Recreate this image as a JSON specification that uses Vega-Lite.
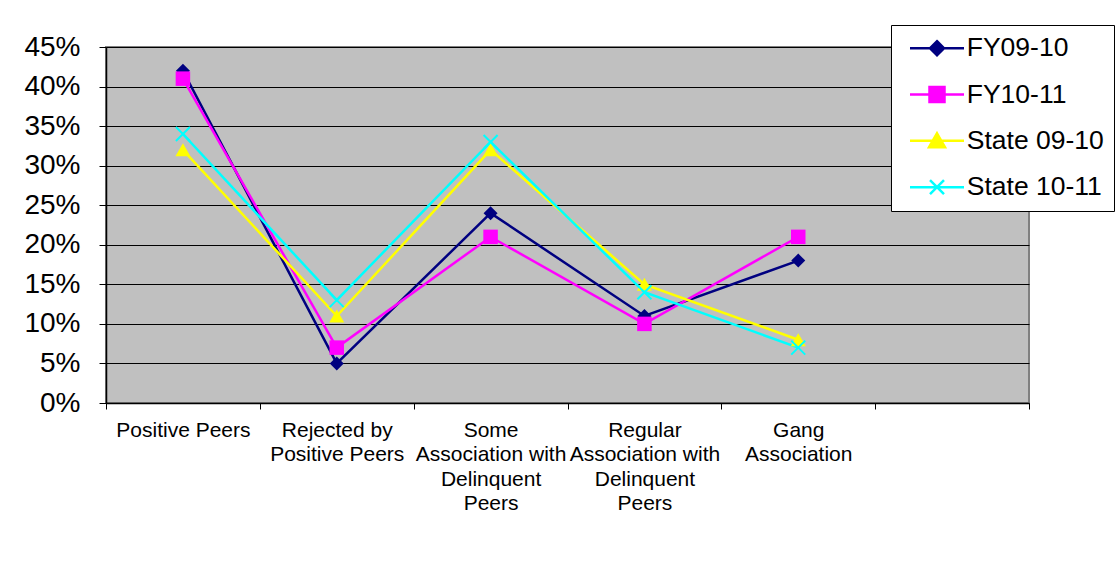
{
  "$schema": "https://vega.github.io/schema/vega-lite/v6.json",
  "autosize": "none",
  "width": 923,
  "height": 356,
  "padding": {"left": 106, "top": 47, "right": 87, "bottom": 174},
  "background": "white",
  "config": {
    "font": "Liberation Sans",
    "view": {"fill": "#C0C0C0", "stroke": "#808080", "strokeWidth": 2}
  },
  "data": {
    "values": [
      {"category": "Positive Peers", "series": "FY09-10", "value": 0.42},
      {"category": "Rejected by Positive Peers", "series": "FY09-10", "value": 0.05},
      {"category": "Some Association with Delinquent Peers", "series": "FY09-10", "value": 0.24},
      {"category": "Regular Association with Delinquent Peers", "series": "FY09-10", "value": 0.11},
      {"category": "Gang Association", "series": "FY09-10", "value": 0.18},
      {"category": "Positive Peers", "series": "FY10-11", "value": 0.41},
      {"category": "Rejected by Positive Peers", "series": "FY10-11", "value": 0.07},
      {"category": "Some Association with Delinquent Peers", "series": "FY10-11", "value": 0.21},
      {"category": "Regular Association with Delinquent Peers", "series": "FY10-11", "value": 0.10},
      {"category": "Gang Association", "series": "FY10-11", "value": 0.21},
      {"category": "Positive Peers", "series": "State 09-10", "value": 0.32},
      {"category": "Rejected by Positive Peers", "series": "State 09-10", "value": 0.11},
      {"category": "Some Association with Delinquent Peers", "series": "State 09-10", "value": 0.32},
      {"category": "Regular Association with Delinquent Peers", "series": "State 09-10", "value": 0.15},
      {"category": "Gang Association", "series": "State 09-10", "value": 0.08},
      {"category": "Positive Peers", "series": "State 10-11", "value": 0.34},
      {"category": "Rejected by Positive Peers", "series": "State 10-11", "value": 0.13},
      {"category": "Some Association with Delinquent Peers", "series": "State 10-11", "value": 0.33},
      {"category": "Regular Association with Delinquent Peers", "series": "State 10-11", "value": 0.14},
      {"category": "Gang Association", "series": "State 10-11", "value": 0.07}
    ]
  },
  "encoding": {
    "x": {
      "field": "category",
      "type": "nominal",
      "bandPosition": 0.5,
      "scale": {
        "type": "band",
        "domain": ["Positive Peers", "Rejected by Positive Peers", "Some Association with Delinquent Peers", "Regular Association with Delinquent Peers", "Gang Association", " "],
        "paddingInner": 0,
        "paddingOuter": 0
      },
      "axis": {
        "title": null,
        "labelAngle": 0,
        "labelFontSize": 21,
        "labelColor": "black",
        "labelLineHeight": 24.5,
        "labelPadding": 10,
        "labelOverlap": false,
        "labelLimit": 0,
        "labelBound": false,
        "tickBand": "extent",
        "tickSize": 6,
        "tickColor": "black",
        "domainColor": "black",
        "domainWidth": 1.5,
        "labelExpr": "datum.value == 'Rejected by Positive Peers' ? ['Rejected by', 'Positive Peers'] : datum.value == 'Some Association with Delinquent Peers' ? ['Some', 'Association with', 'Delinquent', 'Peers'] : datum.value == 'Regular Association with Delinquent Peers' ? ['Regular', 'Association with', 'Delinquent', 'Peers'] : datum.value == 'Gang Association' ? ['Gang', 'Association'] : datum.value"
      }
    },
    "y": {
      "field": "value",
      "type": "quantitative",
      "scale": {"domain": [0, 0.45], "nice": false},
      "axis": {
        "title": null,
        "format": ".0%",
        "values": [0, 0.05, 0.1, 0.15, 0.2, 0.25, 0.3, 0.35, 0.4, 0.45],
        "labelFontSize": 28,
        "labelColor": "black",
        "labelPadding": 19,
        "tickSize": 7,
        "tickColor": "black",
        "domainColor": "black",
        "domainWidth": 1.5,
        "grid": true,
        "gridColor": "black",
        "gridWidth": 1
      }
    },
    "color": {
      "field": "series",
      "type": "nominal",
      "scale": {
        "domain": ["FY09-10", "FY10-11", "State 09-10", "State 10-11"],
        "range": ["#000080", "#FF00FF", "#FFFF00", "#00FFFF"]
      },
      "legend": null
    }
  },
  "layer": [
    {
      "mark": {"type": "line", "strokeWidth": 2.5},
      "encoding": {
        "color": {
          "field": "series",
          "type": "nominal",
          "legend": {
            "title": null,
            "orient": "none",
            "legendX": 785,
            "legendY": -22,
            "fillColor": "white",
            "strokeColor": "black",
            "padding": 10,
            "labelFont": "Liberation Sans",
            "labelFontSize": 26.5,
            "labelColor": "black",
            "symbolSize": 400,
            "symbolStrokeWidth": 2.5,
            "symbolOffset": 22.75,
            "labelOffset": 16.5,
            "rowPadding": 19.3,
            "encode": {
              "symbols": {
                "update": {
                  "shape": {"signal": "datum.value == 'FY09-10' ? 'M-2.7,0H2.7M0,-0.7L0.7,0L0,0.7L-0.7,0Z' : datum.value == 'FY10-11' ? 'M-2.7,0H2.7M-0.75,-0.75H0.75V0.75H-0.75Z' : datum.value == 'State 09-10' ? 'M-2.7,0H2.7M0,-0.75L0.8,0.65H-0.8Z' : 'M-2.7,0H2.7M-0.7,-0.7L0.7,0.7M-0.7,0.7L0.7,-0.7'"},
                  "fill": {"scale": "color", "field": "value"},
                  "stroke": {"scale": "color", "field": "value"}
                }
              }
            }
          }
        }
      }
    },
    {
      "transform": [{"filter": "datum.series != 'State 10-11'"}],
      "mark": {"type": "point", "filled": true, "opacity": 1},
      "encoding": {
        "shape": {
          "field": "series",
          "type": "nominal",
          "scale": {
            "domain": ["FY09-10", "FY10-11", "State 09-10"],
            "range": ["diamond", "square", "triangle-up"]
          },
          "legend": null
        },
        "size": {
          "field": "series",
          "type": "nominal",
          "scale": {
            "domain": ["FY09-10", "FY10-11", "State 09-10"],
            "range": [196, 225, 225]
          },
          "legend": null
        }
      }
    },
    {
      "transform": [{"filter": "datum.series == 'State 10-11'"}],
      "mark": {"type": "point", "filled": false, "opacity": 1, "shape": "M-1,-1L1,1M-1,1L1,-1", "size": 196, "strokeWidth": 2, "stroke": "#00FFFF"}
    }
  ]
}
